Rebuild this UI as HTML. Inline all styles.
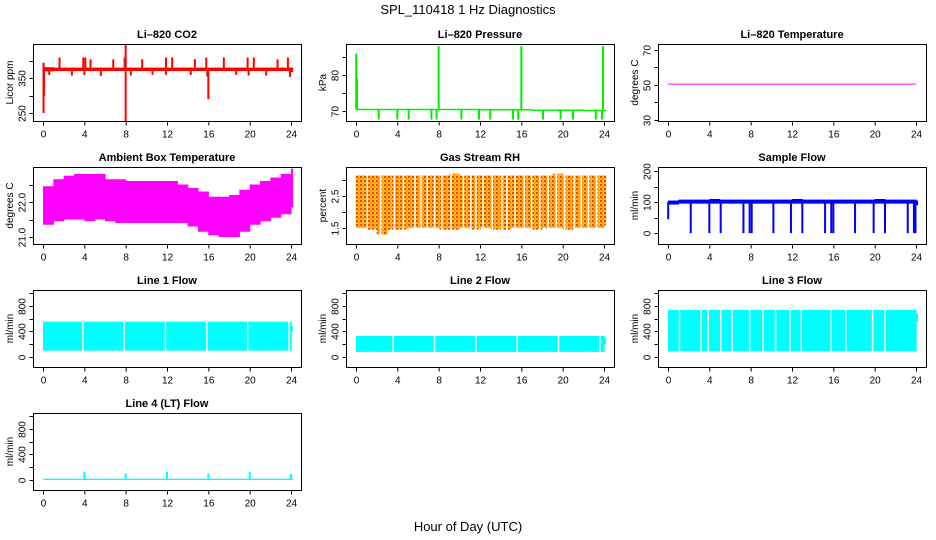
<!DOCTYPE html>
<html><head><meta charset="utf-8"><style>
html,body{margin:0;padding:0;background:#fff}
svg{display:block;font-family:"Liberation Sans",sans-serif}
</style></head><body>
<svg id="c" width="936" height="540" viewBox="0 0 936 540">
<text x="468" y="14" text-anchor="middle" font-size="13">SPL_110418  1 Hz Diagnostics</text>
<text x="468" y="531" text-anchor="middle" font-size="13">Hour of Day (UTC)</text>
</svg>
<script>
const xTicks=[0,4,8,12,16,20,24];
const hours=[0,1,2,3,4,5,6,7,8,9,10,11,12,13,14,15,16,17,18,19,20,21,22,23,24];
// CO2
const co2Lo=[370,371,371,371,371,371,371,371,371,371,371,371,371,371,371,371,371,371,371,371,371,371,371,371,368];
const co2Hi=[382,381,381,381,381,381,381,381,381,381,381,381,381,381,381,381,381,381,381,381,381,381,381,381,381];
const co2Spikes=[[0.05,250],[0.1,300],[0.05,395],[1.6,410],[3.9,410],[4.1,410],[4.6,405],[6.8,405],[7.9,410],[8.0,227],[8.0,449],[9.6,405],[11.9,410],[12.5,410],[14.7,405],[15.8,410],[16.0,290],[15.9,355],[17.5,410],[19.8,410],[20.4,410],[22.7,405],[23.7,410],[0.6,360],[2.8,358],[4.0,360],[5.6,357],[8.5,358],[10.6,360],[11.9,360],[14.3,360],[18.7,360],[19.9,358],[21.6,358],[23.9,354]];
// Pressure
const prLo=[70.2,70.2,70.2,70.2,70.2,70.2,70.2,70.2,70.2,70.2,70.2,70.2,70.1,70.1,70.1,70.1,70.1,70.0,70.0,70.0,70.0,70.0,69.9,69.9,69.9];
const prHi=[70.6,70.6,70.6,70.6,70.6,70.6,70.6,70.6,70.6,70.6,70.6,70.6,70.5,70.5,70.5,70.5,70.5,70.4,70.4,70.4,70.4,70.4,70.3,70.3,70.3];
const prSpikes=[[0.02,86],[0.1,79],[8.0,88],[16.0,88],[23.9,88],[2.2,67.6],[4.0,67.6],[5.1,67.6],[7.3,67.6],[7.8,67.6],[10.2,67.6],[11.9,67.6],[13.0,67.6],[15.2,67.6],[15.7,67.6],[18.1,67.6],[19.8,67.6],[21.0,67.6],[23.2,67.6],[23.8,67.6]];
// Li-820 temperature
const tmpVal=[50.5,50.5,50.5,50.5,50.5,50.5,50.5,50.5,50.5,50.5,50.5,50.5,50.5,50.5,50.5,50.5,50.5,50.5,50.5,50.5,50.5,50.5,50.5,50.5,50.5];
// Ambient box temperature
const ambLo=[21.35,21.45,21.5,21.5,21.45,21.5,21.45,21.4,21.4,21.4,21.4,21.4,21.4,21.4,21.3,21.15,21.05,21.0,21.0,21.15,21.35,21.45,21.55,21.65,21.85];
const ambHi=[22.45,22.65,22.75,22.8,22.8,22.8,22.65,22.65,22.6,22.6,22.6,22.6,22.6,22.5,22.4,22.3,22.15,22.15,22.2,22.35,22.5,22.6,22.7,22.8,22.95];
// Gas stream RH
const rhLo=[1.5,1.45,1.3,1.45,1.45,1.5,1.5,1.5,1.45,1.45,1.5,1.45,1.5,1.45,1.45,1.5,1.5,1.45,1.5,1.5,1.45,1.5,1.5,1.5,1.6];
const rhHi=[3.15,3.15,3.15,3.15,3.15,3.15,3.15,3.15,3.15,3.2,3.15,3.15,3.15,3.15,3.15,3.15,3.15,3.15,3.15,3.2,3.15,3.15,3.15,3.15,3.15];
const rhGaps=[1.1,2.4,3.7,4.6,5.7,6.3,6.9,7.6,8.3,9.2,10.4,11.1,11.6,12.3,13.2,14.1,14.6,15.4,16.3,17.0,17.8,18.6,19.4,20.2,21.1,21.8,22.5,23.3];
// Sample flow
const sfLo=[92,95,95,95,95,95,95,95,95,95,95,95,95,95,95,95,95,95,95,95,95,95,95,95,90];
const sfHi=[105,108,108,108,110,108,108,108,108,108,108,108,110,108,108,108,108,108,108,108,110,108,108,108,105];
const sfSpikes=[[2.2,0],[4.0,0],[5.1,0],[7.3,0],[7.9,0],[8.1,0],[10.2,0],[11.9,0],[13.0,0],[15.2,0],[15.8,0],[16.0,0],[18.1,0],[19.9,0],[21.0,0],[23.2,0],[23.8,0],[23.95,0],[0.02,45]];
// Line flows
const l1Lo=[100,100,100,100,100,100,100,100,100,100,100,100,100,100,100,100,100,100,100,100,100,100,100,100,400];
const l1Hi=[555,555,555,555,555,555,555,555,555,555,555,555,555,555,555,555,555,555,555,555,555,555,555,555,480];
const l1Gaps=[3.85,7.85,11.85,15.85,19.8,23.8];
const l2Lo=[80,80,80,80,80,80,80,80,80,80,80,80,80,80,80,80,80,80,80,80,80,80,80,80,200];
const l2Hi=[330,330,330,330,330,330,330,330,330,330,330,330,330,330,330,330,330,330,330,330,330,330,330,330,300];
const l2Gaps=[3.6,7.6,11.6,15.6,19.6,23.6];
const l3Lo=[90,90,90,90,90,90,90,90,90,90,90,90,90,90,90,90,90,90,90,90,90,90,90,90,550];
const l3Hi=[740,740,740,740,740,740,740,740,740,740,740,740,740,740,740,740,740,740,740,740,740,740,740,740,680];
const l3Gaps=[1.1,3.2,3.9,5.1,6.2,7.9,9.2,10.4,11.8,12.9,15.8,17.2,19.8,21.0];
const l4Lo=[0,0,0,0,0,0,0,0,0,0,0,0,0,0,0,0,0,0,0,0,0,0,0,0,0];
const l4Hi=[20,20,20,20,20,20,20,20,20,20,20,20,20,20,20,20,20,20,20,20,20,20,20,20,20];
const l4Spikes=[[4.0,130],[8.0,100],[12.0,130],[16.0,100],[20.0,130],[24.0,100]];

const NS='http://www.w3.org/2000/svg';
const svg=document.getElementById('c');
function mk(tag,attrs,parent){const e=document.createElementNS(NS,tag);for(const k in attrs)e.setAttribute(k,attrs[k]);(parent||svg).appendChild(e);return e;}

function panel(p){
  const L=p.x,T=p.y,W=268,H=77;
  const g=mk('g',{});
  
  
  const sx=h=>L+10+h/24*(W-20);
  const sy=v=>T+H-(v-p.ymin)/(p.ymax-p.ymin)*H;
  const cl='clip-'+p.name;
  const cp=mk('clipPath',{id:cl},g);mk('rect',{x:L,y:T,width:W,height:H},cp);
  const d=mk('g',{'clip-path':'url(#'+cl+')'},g);
  
  
  if(p.lo){
    const n=p.hours.length;
    const edge=i=>i<n-1?sx(p.hours[i+1]):sx(p.hours[i])+1.5;
    p.hours.forEach((h,i)=>{
      const r=mk('rect',{x:sx(h),y:sy(p.hi[i]),width:edge(i)-sx(h)+0.6,height:Math.max(1,sy(p.lo[i])-sy(p.hi[i])),fill:p.dots?'url(#rhpat)':p.color},d);
      
      
    });
  }
  if(p.line){
    const pts=p.hours.map((h,i)=>sx(h)+','+sy(p.line[i])).join(' ');
    const ln=mk('polyline',{points:pts,fill:'none',stroke:p.color,'stroke-width':1},d);
    
    
  }
  (p.gaps||[]).forEach(h=>{
    const gl=mk('line',{x1:sx(h),x2:sx(h),y1:T,y2:T+H,stroke:'#fff','stroke-width':1.5},d);
    
    
  });
  (p.spikes||[]).forEach(s=>{
    const sp=mk('line',{x1:sx(s[0]),x2:sx(s[0]),y1:sy(p.base),y2:sy(s[1]),stroke:p.spikeColor||p.color,'stroke-width':2},d);
    
    
  });
  const box=mk('rect',{x:L+.5,y:T+.5,width:W,height:H,fill:'none',stroke:'#000','stroke-width':1},g);
  
  
  const t=mk('text',{x:L+W/2,y:T-6,'text-anchor':'middle','font-size':11,'font-weight':'bold'},g);
  t.textContent=p.title;
  
  
  const xa=mk('g',{},g);
  
  
  const by=T+H+0.5;
  mk('line',{x1:sx(0),x2:sx(24),y1:by,y2:by,stroke:'#000'},xa);
  xTicks.forEach(h=>{
    mk('line',{x1:sx(h)+.5,x2:sx(h)+.5,y1:by,y2:by+4,stroke:'#000'},xa);
    const tl=mk('text',{x:sx(h)+.5,y:by+16,'text-anchor':'middle','font-size':10},xa);
    tl.textContent=h;
    
    
  });
  const ya=mk('g',{},g);
  
  
  const lx=L+0.5;
  mk('line',{x1:lx,x2:lx,y1:sy(p.yt[0]),y2:sy(p.yt[p.yt.length-1]),stroke:'#000'},ya);
  p.yt.forEach((v,i)=>{
    const yy=Math.round(sy(v))+.5;
    mk('line',{x1:lx-4,x2:lx,y1:yy,y2:yy,stroke:'#000'},ya);
    if(p.yl[i]!==''){
      const tl=mk('text',{x:lx-8,y:yy,'text-anchor':'middle','font-size':10,transform:'rotate(-90 '+(lx-8)+' '+yy+')'},ya);
      tl.textContent=p.yl[i];
      
      
    }
  });
  const yt=mk('text',{x:L-20,y:T+H/2,'text-anchor':'middle','font-size':10,transform:'rotate(-90 '+(L-20)+' '+(T+H/2)+')'},g);
  yt.textContent=p.ylab;
  
  
}
const defs=mk('defs',{});
const pat=mk('pattern',{id:'rhpat',width:4,height:4,patternUnits:'userSpaceOnUse'},defs);
mk('rect',{width:4,height:4,fill:'#ffc000'},pat);
mk('rect',{x:0,y:0,width:2,height:2,fill:'#f04010'},pat);
mk('rect',{x:2,y:2,width:1,height:1,fill:'#f06010'},pat);

const C1=33,C2=346,C3=658,R1=44,R2=167,R3=290,R4=413;
const flowT=[0,200,400,600,800,1000],flowL=['0','','400','','800',''];
panel({name:'co2-panel',title:'Li\u2013820 CO2',ylab:'Licor ppm',x:C1,y:R1,ymin:227,ymax:449,yt:[250,300,350,400],yl:['250','','350',''],color:'#ff0000',hours,lo:co2Lo,hi:co2Hi,spikes:co2Spikes,base:376});
panel({name:'pressure-panel',title:'Li\u2013820 Pressure',ylab:'kPa',x:C2,y:R1,ymin:67.2,ymax:88.6,yt:[70,75,80,85],yl:['70','','80',''],color:'#00ee00',hours,lo:prLo,hi:prHi,spikes:prSpikes,base:70.4});
panel({name:'licor-temp-panel',title:'Li\u2013820 Temperature',ylab:'degrees C',x:C3,y:R1,ymin:29.4,ymax:73.4,yt:[30,40,50,60,70],yl:['30','','50','','70'],color:'#ff00ff',hours,line:tmpVal});
panel({name:'ambient-temp-panel',title:'Ambient Box Temperature',ylab:'degrees C',x:C1,y:R2,ymin:20.8,ymax:23.0,yt:[21.0,21.5,22.0,22.5],yl:['21.0','','22.0',''],color:'#ff00ff',hours,lo:ambLo,hi:ambHi});
panel({name:'rh-panel',title:'Gas Stream RH',ylab:'percent',x:C2,y:R2,ymin:1.0,ymax:3.41,yt:[1.5,2.0,2.5,3.0],yl:['1.5','','2.5',''],color:'#ffb000',dots:true,hours,lo:rhLo,hi:rhHi,gaps:rhGaps});
panel({name:'sample-flow-panel',title:'Sample Flow',ylab:'ml/min',x:C3,y:R2,ymin:-35,ymax:213,yt:[0,50,100,150,200],yl:['0','','100','','200'],color:'#0000ff',hours,lo:sfLo,hi:sfHi,spikes:sfSpikes,base:100});
panel({name:'line1-flow-panel',title:'Line 1 Flow',ylab:'ml/min',x:C1,y:R3,ymin:-157,ymax:1051,yt:flowT,yl:flowL,color:'#00ffff',hours,lo:l1Lo,hi:l1Hi,gaps:l1Gaps});
panel({name:'line2-flow-panel',title:'Line 2 Flow',ylab:'ml/min',x:C2,y:R3,ymin:-157,ymax:1051,yt:flowT,yl:flowL,color:'#00ffff',hours,lo:l2Lo,hi:l2Hi,gaps:l2Gaps});
panel({name:'line3-flow-panel',title:'Line 3 Flow',ylab:'ml/min',x:C3,y:R3,ymin:-157,ymax:1051,yt:flowT,yl:flowL,color:'#00ffff',hours,lo:l3Lo,hi:l3Hi,gaps:l3Gaps});
panel({name:'line4-flow-panel',title:'Line 4 (LT) Flow',ylab:'ml/min',x:C1,y:R4,ymin:-157,ymax:1051,yt:flowT,yl:flowL,color:'#00ffff',hours,lo:l4Lo,hi:l4Hi,spikes:l4Spikes,base:10});
</script>
</body></html>
